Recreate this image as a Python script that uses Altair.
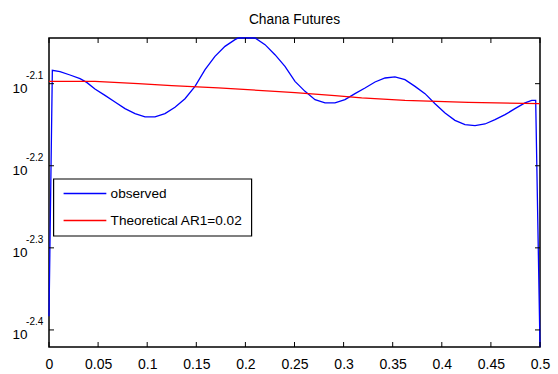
import altair as alt
import pandas as pd

# ---- data ----
obs_f = [0.0, 0.0034, 0.0112, 0.0214, 0.0316, 0.0384, 0.0468, 0.0570, 0.0672, 0.0774,
         0.0876, 0.0978, 0.1079, 0.1181, 0.1283, 0.1385, 0.1487, 0.1589, 0.1690, 0.1792,
         0.1894, 0.1928, 0.2013, 0.2098, 0.2200, 0.2301, 0.2403, 0.2505, 0.2607, 0.2709,
         0.2811, 0.2912, 0.3014, 0.3116, 0.3218, 0.3320, 0.3422, 0.3523, 0.3625, 0.3727,
         0.3829, 0.3931, 0.4033, 0.4134, 0.4236, 0.4338, 0.4440, 0.4542, 0.4644, 0.4745,
         0.4847, 0.4916, 0.4956, 0.5]
obs_v = [0.004136, 0.008245, 0.008215, 0.008139, 0.008056, 0.007972, 0.007826, 0.007687, 0.007546, 0.007406,
         0.007303, 0.007235, 0.007235, 0.007303, 0.007433, 0.007616, 0.007883, 0.008261, 0.008575, 0.008820,
         0.008987, 0.009029, 0.009029, 0.009029, 0.008862, 0.008616, 0.008338, 0.007995, 0.007774, 0.007595,
         0.007525, 0.007525, 0.007595, 0.007724, 0.007848, 0.007981, 0.008071, 0.008094, 0.008033, 0.007883,
         0.007724, 0.007510, 0.007317, 0.007167, 0.007081, 0.007061, 0.007094, 0.007181, 0.007282, 0.007406,
         0.007525, 0.007580, 0.007580, 0.003795]

theo_f = [0.0, 0.0468, 0.0909, 0.1249, 0.1724, 0.2301, 0.2505, 0.2912, 0.3184, 0.3625, 0.4270, 0.5]
theo_v = [0.007995, 0.007995, 0.007943, 0.007899, 0.007848, 0.007774, 0.007745, 0.007680, 0.007631,
          0.007580, 0.007538, 0.007510]

series = ["observed", "Theoretical AR1=0.02"]
colors = ["#0000ff", "#ff0000"]

x_ticks = [0, 0.05, 0.1, 0.15, 0.2, 0.25, 0.3, 0.35, 0.4, 0.45, 0.5]
y_ticks = [0.0039811, 0.0050119, 0.0063096, 0.0079433]
y_exps = ["-2.4", "-2.3", "-2.2", "-2.1"]

x_domain = [0, 0.5]
y_domain = [0.003795, 0.009029]

FONT = "Liberation Sans, Arial, sans-serif"
W, H = 491, 309

lines_df = pd.concat([
    pd.DataFrame({"f": obs_f, "v": obs_v, "series": series[0], "order": 0}),
    pd.DataFrame({"f": theo_f, "v": theo_v, "series": series[1], "order": 1}),
], ignore_index=True)
xt_df = pd.DataFrame({"f": x_ticks})
yt_df = pd.DataFrame({"v": y_ticks, "exp": y_exps})

xscale = alt.Scale(domain=x_domain, nice=False, zero=False)
yscale = alt.Scale(type="log", domain=y_domain, nice=False, zero=False)

xaxis = alt.Axis(values=x_ticks, format="~g", ticks=False, domain=False, grid=False,
                 title=None, labelPadding=10, labelFontSize=14, labelFont=FONT, labelColor="black",
                 labelFlush=False, labelOverlap=False)
yaxis = alt.Axis(values=y_ticks, labelExpr="'10'", ticks=False, domain=False, grid=False,
                 title=None, labelPadding=22, labelFontSize=13.5, labelFont=FONT, labelColor="black",
                 labelBaseline="alphabetic", labelOffset=8.6, labelAlign="right", labelOverlap=False)
X = alt.X("f:Q", scale=xscale, axis=xaxis)
Y = alt.Y("v:Q", scale=yscale, axis=yaxis)

lines = alt.Chart(lines_df).mark_line(strokeWidth=1.3).encode(
    x=X, y=Y,
    color=alt.Color("series:N", scale=alt.Scale(domain=series, range=colors), legend=alt.Legend(
        title=None, orient="none", legendX=4.3, legendY=140.7,
        symbolType="M-0.82,0H6.95", symbolSize=121, symbolStrokeWidth=1.3,
        labelOffset=35.7, labelFontSize=13.6, labelFont=FONT, labelColor="black", labelLimit=400,
        padding=8, rowPadding=12, strokeColor="black", fillColor="white")),
    order=alt.Order("order:Q"),
)

tick_bottom = alt.Chart(xt_df).mark_rule(color="black", strokeWidth=1).encode(
    x=X, y=alt.value(H), y2=alt.value(H - 5))
tick_top = alt.Chart(xt_df).mark_rule(color="black", strokeWidth=1).encode(
    x=X, y=alt.value(0), y2=alt.value(5))
tick_left = alt.Chart(yt_df).mark_rule(color="black", strokeWidth=1).encode(
    y=Y, x=alt.value(0), x2=alt.value(5))
tick_right = alt.Chart(yt_df).mark_rule(color="black", strokeWidth=1).encode(
    y=Y, x=alt.value(W), x2=alt.value(W - 5))
exps = alt.Chart(yt_df).mark_text(align="right", baseline="alphabetic", fontSize=10,
                                  font=FONT, dy=-4.7, color="black").encode(
    y=Y, x=alt.value(-5.7), text="exp:N")

chart = alt.layer(lines, tick_bottom, tick_top, tick_left, tick_right, exps).properties(
    width=W, height=H,
    autosize=alt.AutoSizeParams(type="none"),
    padding={"left": 49, "top": 38, "right": 18, "bottom": 27},
    title=alt.TitleParams("Chana Futures", font=FONT, fontSize=13.8, fontWeight="normal",
                          color="black", offset=9, anchor="middle"),
).configure_view(stroke="black", strokeWidth=1.5).configure_legend(strokeWidth=1.2)

chart.save("out.html", embed_options={"renderer": "svg", "actions": False})
